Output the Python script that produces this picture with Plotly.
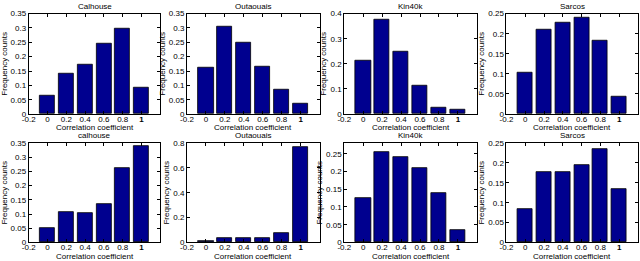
import plotly.graph_objects as go

bins = [0, 0.2, 0.4, 0.6, 0.8, 1.0]
titles = ["Calhouse", "Outaouais", "Kin40k", "Sarcos",
          "calhouse", "Outaouais", "Kin40k", "Sarcos"]
calhouse_top = [0.063, 0.140, 0.171, 0.246, 0.298, 0.092]
outaouais_top = [0.161, 0.303, 0.248, 0.166, 0.084, 0.035]
kin40k_top = [0.214, 0.378, 0.250, 0.115, 0.026, 0.019]
sarcos_top = [0.103, 0.210, 0.228, 0.240, 0.183, 0.043]
calhouse_bot = [0.050, 0.107, 0.105, 0.136, 0.261, 0.340]
outaouais_bot = [0.015, 0.039, 0.039, 0.039, 0.075, 0.766]
kin40k_bot = [0.126, 0.254, 0.240, 0.210, 0.140, 0.035]
sarcos_bot = [0.085, 0.177, 0.176, 0.194, 0.235, 0.134]
series = [calhouse_top, outaouais_top, kin40k_top, sarcos_top,
          calhouse_bot, outaouais_bot, kin40k_bot, sarcos_bot]
y_max = [0.35, 0.35, 0.4, 0.25, 0.35, 0.8, 0.28, 0.25]
y_step = [0.05, 0.05, 0.1, 0.05, 0.05, 0.2, 0.05, 0.05]
x_tickvals = [-0.2, 0, 0.2, 0.4, 0.6, 0.8, 1.0]
x_ticktext = ["-0.2", "0", "0.2", "0.4", "0.6", "0.8", "<b>1</b>"]
x_title = "Correlation coefficient"
y_title = "Frequency counts"

W, H = 640, 261
col_px = [(22, 155), (182, 316), (341, 475), (505, 638)]
row_px = [(10, 114), (144, 247)]

fig = go.Figure()
font = dict(family="Liberation Sans, Arial, sans-serif", size=8, color="black")
for i in range(8):
    r, c = divmod(i, 4)
    n = i + 1
    xa = "x" if n == 1 else f"x{n}"
    ya = "y" if n == 1 else f"y{n}"
    fig.add_trace(go.Bar(x=bins, y=series[i], width=0.16, xaxis=xa, yaxis=ya,
                         marker=dict(color="rgb(0,0,143)",
                                     line=dict(color="black", width=0.8)),
                         showlegend=False, hoverinfo="skip"))
    x0, x1 = col_px[c]
    y0, y1 = row_px[r]
    common = dict(showline=True, linecolor="black", linewidth=1, mirror="ticks",
                  ticks="inside", ticklen=3, tickcolor="black", showgrid=False,
                  zeroline=False, tickfont=font)
    fig.layout[f"xaxis{'' if n == 1 else n}"] = dict(
        domain=[x0 / W, x1 / W], range=[-0.2, 1.2], anchor=ya,
        tickvals=x_tickvals, ticktext=x_ticktext, ticklabelstandoff=-3, **common)
    fig.layout[f"yaxis{'' if n == 1 else n}"] = dict(
        domain=[1 - y1 / H, 1 - y0 / H], range=[0, y_max[i]], anchor=xa,
        dtick=y_step[i], tick0=0,
        title=dict(text=y_title, font=font, standoff=2), **common)
    fig.add_annotation(text=titles[i], x=(x0 + x1) / 2 / W, y=1 - (y0 - 1) / H,
                       xref="paper", yref="paper", showarrow=False,
                       xanchor="center", yanchor="bottom", font=font)
    fig.add_annotation(text=x_title, x=(x0 + x1) / 2 / W, y=1 - (y1 + 14) / H,
                       xref="paper", yref="paper", showarrow=False,
                       xanchor="center", yanchor="middle", font=font)

fig.update_layout(width=W, height=H, margin=dict(l=0, r=0, t=0, b=0),
                  paper_bgcolor="white", plot_bgcolor="white", font=font,
                  bargap=0)
fig.write_html("out.html", config={"displayModeBar": False},
               post_script="document.body.style.margin='0';")
